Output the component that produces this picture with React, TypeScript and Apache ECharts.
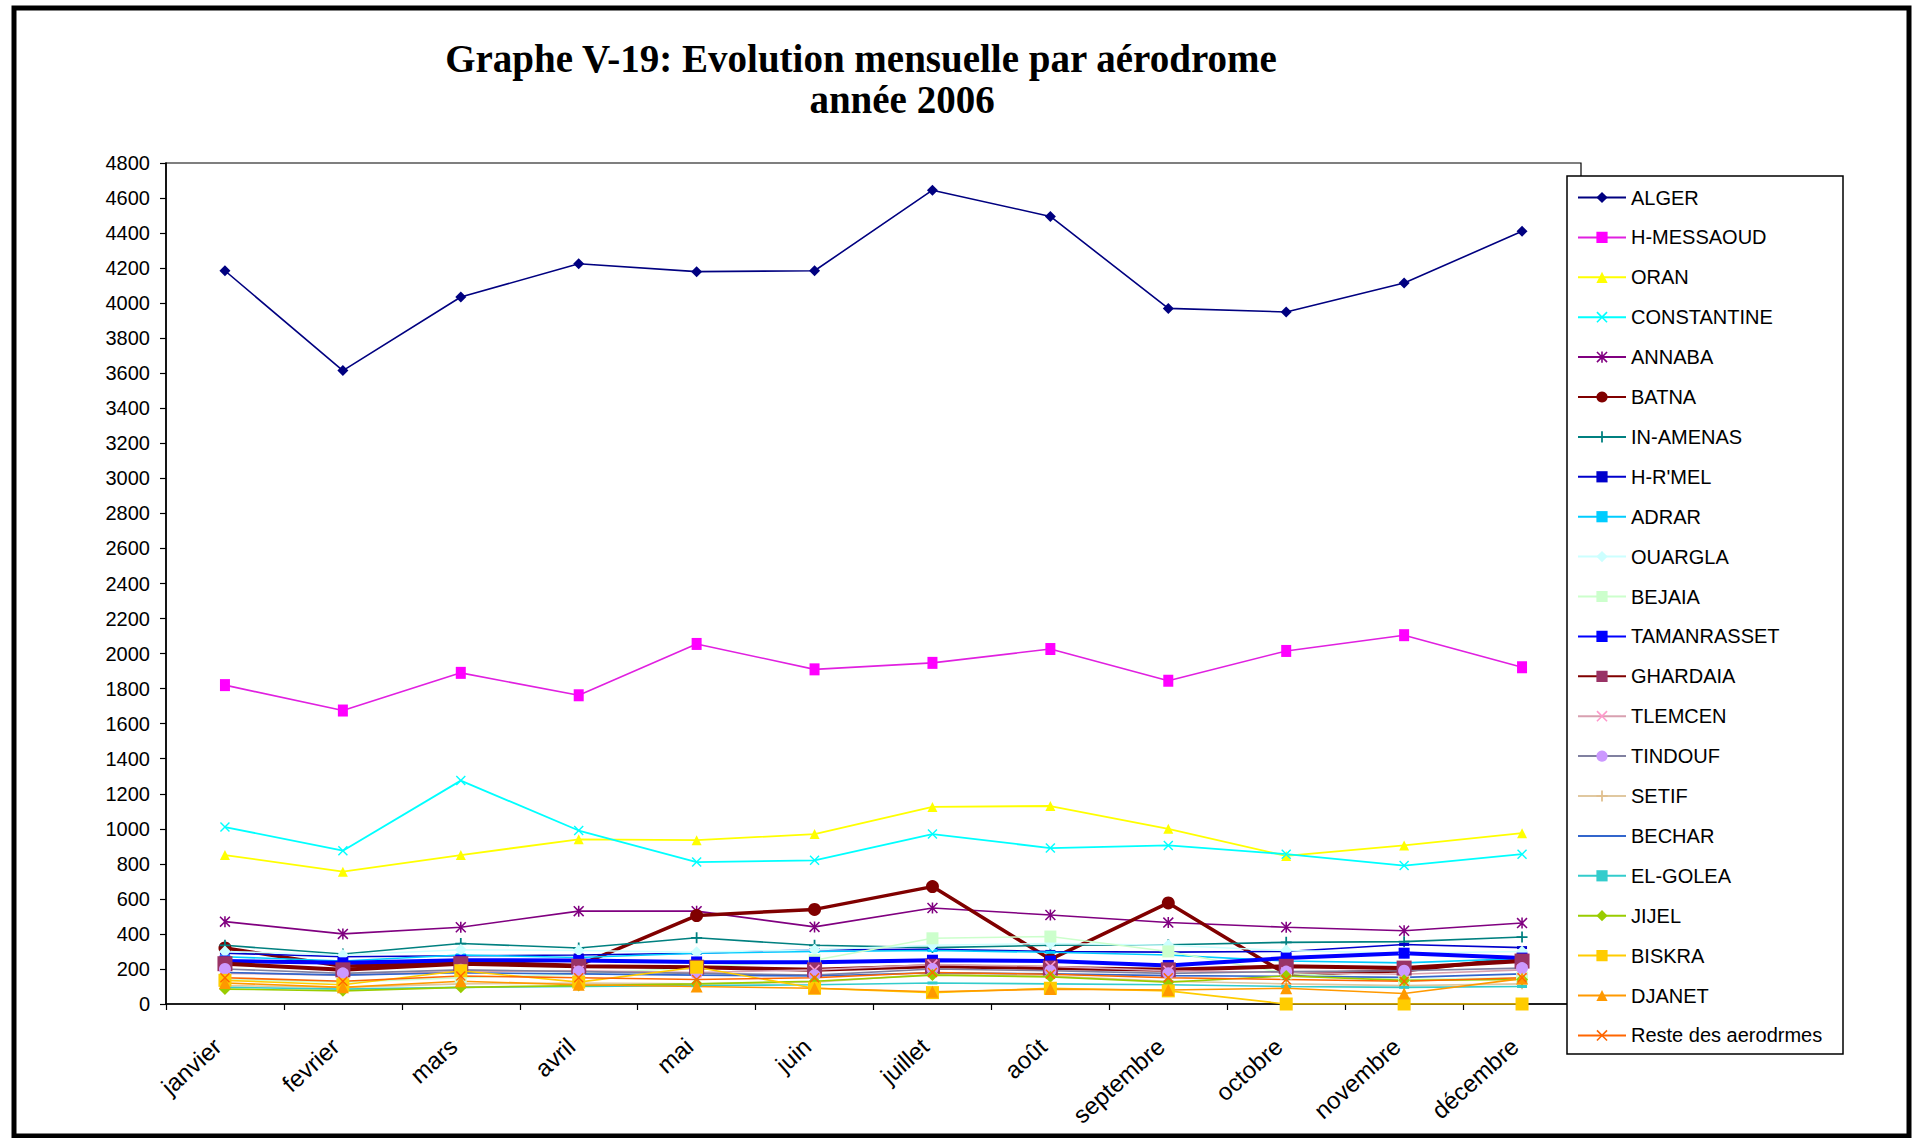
import React, { useEffect, useRef } from "react";
import * as echarts from "echarts";

// ---------- data ----------
const months = [
  "janvier", "fevrier", "mars", "avril", "mai", "juin",
  "juillet", "août", "septembre", "octobre", "novembre", "décembre",
];

const alger = [4185, 3615, 4035, 4225, 4180, 4185, 4645, 4495, 3970, 3950, 4115, 4410];
const hMessaoud = [1820, 1675, 1890, 1762, 2055, 1910, 1947, 2026, 1845, 2015, 2105, 1922];
const oran = [850, 755, 850, 940, 935, 970, 1125, 1130, 1000, 845, 905, 975];
const constantine = [1010, 875, 1275, 990, 810, 820, 970, 890, 905, 855, 790, 855];
const annaba = [470, 400, 438, 530, 530, 440, 548, 508, 465, 438, 418, 462];
const batna = [320, 215, 240, 220, 505, 540, 670, 255, 577, 170, 190, 262];
const inAmenas = [335, 285, 345, 320, 378, 335, 322, 335, 338, 352, 356, 382];
const hRmel = [290, 270, 275, 280, 290, 310, 312, 300, 296, 300, 340, 322];
const adrar = [270, 245, 280, 265, 290, 300, 305, 295, 280, 245, 235, 260];
const ouargla = [300, 280, 310, 305, 295, 310, 335, 345, 335, 305, 290, 300];
const bejaia = [140, 125, 150, 170, 210, 250, 375, 385, 300, 175, 140, 150];
const tamanrasset = [245, 235, 250, 248, 240, 238, 250, 245, 220, 262, 290, 262];
const ghardaia = [230, 195, 230, 215, 210, 195, 215, 205, 195, 215, 205, 245];
const tlemcen = [175, 165, 185, 190, 180, 195, 225, 215, 190, 180, 170, 195];
const tindouf = [200, 175, 195, 185, 175, 165, 200, 190, 175, 185, 190, 205];
const setif = [105, 95, 115, 120, 115, 125, 170, 160, 130, 115, 105, 115];
const bechar = [180, 165, 178, 172, 165, 160, 178, 172, 162, 158, 152, 172];
const elGolea = [95, 85, 95, 100, 105, 110, 120, 115, 110, 100, 95, 100];
const jijel = [85, 75, 95, 105, 115, 130, 165, 155, 125, 160, 135, 140];
const biskra = [135, 110, 190, 125, 210, 90, 65, 90, 75, 0, 0, 0];
const djanet = [120, 95, 130, 110, 100, 90, 70, 85, 80, 90, 60, 145];
const reste = [150, 130, 160, 150, 140, 150, 180, 170, 150, 140, 130, 150];

const seriesNames = [
  "ALGER", "H-MESSAOUD", "ORAN", "CONSTANTINE", "ANNABA", "BATNA",
  "IN-AMENAS", "H-R'MEL", "ADRAR", "OUARGLA", "BEJAIA", "TAMANRASSET",
  "GHARDAIA", "TLEMCEN", "TINDOUF", "SETIF", "BECHAR", "EL-GOLEA",
  "JIJEL", "BISKRA", "DJANET", "Reste des aerodrmes",
];
const seriesValues = [
  alger, hMessaoud, oran, constantine, annaba, batna,
  inAmenas, hRmel, adrar, ouargla, bejaia, tamanrasset,
  ghardaia, tlemcen, tindouf, setif, bechar, elGolea,
  jijel, biskra, djanet, reste,
];

// ---------- styles ----------
const X_PATH = "path://M0,1 L1,0 L5,4 L9,0 L10,1 L6,5 L10,9 L9,10 L5,6 L1,10 L0,9 L4,5 Z";
const STAR_PATH =
  "path://M0,1 L1,0 L5,4 L9,0 L10,1 L6,5 L10,9 L9,10 L5,6 L1,10 L0,9 L4,5 Z M4.3,0 L5.7,0 L5.7,10 L4.3,10 Z";
const PLUS_PATH = "path://M4.2,0 L5.8,0 L5.8,4.2 L10,4.2 L10,5.8 L5.8,5.8 L5.8,10 L4.2,10 L4.2,5.8 L0,5.8 L0,4.2 L4.2,4.2 Z";
const DASH_PATH = "path://M0,0 L10,0 L10,2.5 L0,2.5 Z";
const LINE_ICON = "path://M0,0 L48,0 L48,2 L0,2 Z";

type Sty = { line: string; mark: string; symbol: string; size: number | number[]; width: number };
const styles: Sty[] = [
  { line: "#000080", mark: "#000080", symbol: "diamond", size: 11, width: 1.6 },
  { line: "#E020E0", mark: "#FF00FF", symbol: "rect", size: [10, 12], width: 1.6 },
  { line: "#FFFF00", mark: "#FFFF00", symbol: "triangle", size: 10, width: 1.8 },
  { line: "#00FFFF", mark: "#00FFFF", symbol: X_PATH, size: 10, width: 1.8 },
  { line: "#800080", mark: "#800080", symbol: STAR_PATH, size: 11, width: 1.6 },
  { line: "#800000", mark: "#800000", symbol: "circle", size: 13, width: 3.5 },
  { line: "#008080", mark: "#008080", symbol: PLUS_PATH, size: 11, width: 1.6 },
  { line: "#0000CC", mark: "#0000CC", symbol: DASH_PATH, size: [10, 3], width: 1.6 },
  { line: "#00CCFF", mark: "#00CCFF", symbol: DASH_PATH, size: [10, 3], width: 1.6 },
  { line: "#CCFFFF", mark: "#CCFFFF", symbol: "diamond", size: 12, width: 1.6 },
  { line: "#CCFFCC", mark: "#CCFFCC", symbol: "rect", size: 12, width: 1.6 },
  { line: "#0000FF", mark: "#0000FF", symbol: "rect", size: 11, width: 4 },
  { line: "#800000", mark: "#993366", symbol: "rect", size: 15, width: 4 },
  { line: "#D8A0B0", mark: "#FF99CC", symbol: X_PATH, size: 11, width: 1.6 },
  { line: "#8080A0", mark: "#CC99FF", symbol: "circle", size: 12, width: 1.6 },
  { line: "#E0C8A0", mark: "#E0C090", symbol: PLUS_PATH, size: 11, width: 1.6 },
  { line: "#3366CC", mark: "#3366CC", symbol: "none", size: 0, width: 1.6 },
  { line: "#33CCCC", mark: "#33CCCC", symbol: DASH_PATH, size: [10, 3], width: 1.6 },
  { line: "#99CC00", mark: "#99CC00", symbol: "diamond", size: 12, width: 1.6 },
  { line: "#FFCC00", mark: "#FFCC00", symbol: "rect", size: 13, width: 1.6 },
  { line: "#FF9900", mark: "#FF9900", symbol: "triangle", size: 12, width: 1.6 },
  { line: "#FF6600", mark: "#FF6600", symbol: X_PATH, size: 10, width: 1.6 },
];

const FONT = "'Liberation Sans', Arial, sans-serif";
const SERIF = "'Liberation Serif', 'Times New Roman', serif";

function buildOption(): any {
  const series = seriesNames.map((name, i) => {
    const s = styles[i];
    return {
      name,
      type: "line",
      data: seriesValues[i],
      symbol: s.symbol,
      symbolSize: s.size,
      showSymbol: s.symbol !== "none",
      lineStyle: { color: s.line, width: s.width },
      itemStyle: { color: s.mark, borderWidth: 0 },
      emphasis: { disabled: true },
    };
  });

  const legendData = seriesNames.map((name, i) =>
    styles[i].symbol === "none"
      ? { name, icon: LINE_ICON, itemStyle: { color: styles[i].line } }
      : { name }
  );

  return {
    animation: false,
    backgroundColor: "#ffffff",
    grid: {
      left: 166,
      top: 163,
      width: 1415,
      height: 841,
      show: true,
      borderColor: "#000",
      borderWidth: 1.2,
      backgroundColor: "transparent",
    },
    xAxis: {
      type: "category",
      data: months,
      boundaryGap: true,
      axisLine: { show: true, lineStyle: { color: "#000", width: 1.6 } },
      axisTick: { show: true, length: 6, interval: 0, lineStyle: { color: "#000", width: 1.2 } },
      axisLabel: {
        interval: 0,
        rotate: 42,
        margin: 32,
        padding: [0, 10, 0, 0],
        fontSize: 24,
        fontFamily: FONT,
        color: "#000",
      },
      splitLine: { show: false },
    },
    yAxis: {
      type: "value",
      min: 0,
      max: 4800,
      interval: 200,
      axisLine: { show: true, lineStyle: { color: "#000", width: 1.6 } },
      axisTick: { show: true, length: 6, lineStyle: { color: "#000", width: 1.2 } },
      axisLabel: {
        fontSize: 20,
        fontFamily: FONT,
        color: "#000",
        margin: 16,
        formatter: (v: number) => String(v),
      },
      splitLine: { show: false },
    },
    legend: {
      orient: "vertical",
      left: 1567,
      top: 176,
      padding: [11.5, 10, 10, 10],
      itemWidth: 48,
      itemHeight: 14,
      itemGap: 19.9,
      z: 20,
      selectedMode: false,
      textStyle: { fontSize: 20, fontFamily: FONT, color: "#000", lineHeight: 20 },
      data: legendData,
    },
    graphic: [
      {
        type: "rect",
        z: 3,
        shape: { x: 1567, y: 176, width: 276, height: 878 },
        style: { fill: "#fff", stroke: "#000", lineWidth: 1.5 },
      },
      {
        type: "rect",
        z: 50,
        shape: { x: 14, y: 8, width: 1895, height: 1128 },
        style: { fill: "none", stroke: "#000", lineWidth: 5 },
      },
      {
        type: "text",
        z: 50,
        x: 861,
        y: 58,
        style: {
          text: "Graphe V-19: Evolution mensuelle par aérodrome",
          fontSize: 39,
          fontWeight: "bold",
          fontFamily: SERIF,
          fill: "#000",
          align: "center",
          verticalAlign: "middle",
          textAlign: "center",
          textVerticalAlign: "middle",
        },
      },
      {
        type: "text",
        z: 50,
        x: 902,
        y: 99.5,
        style: {
          text: "année 2006",
          fontSize: 39,
          fontWeight: "bold",
          fontFamily: SERIF,
          fill: "#000",
          align: "center",
          verticalAlign: "middle",
          textAlign: "center",
          textVerticalAlign: "middle",
        },
      },
    ],
    series,
  };
}

export default function App() {
  const ref = useRef<HTMLDivElement>(null);
  useEffect(() => {
    if (!ref.current) return;
    const chart = echarts.init(ref.current, undefined, { renderer: "svg" });
    chart.setOption(buildOption());
    return () => chart.dispose();
  }, []);
  return (
    <div
      ref={ref}
      style={{ position: "fixed", left: 0, top: 0, width: 1917, height: 1138, background: "#fff" }}
    />
  );
}
